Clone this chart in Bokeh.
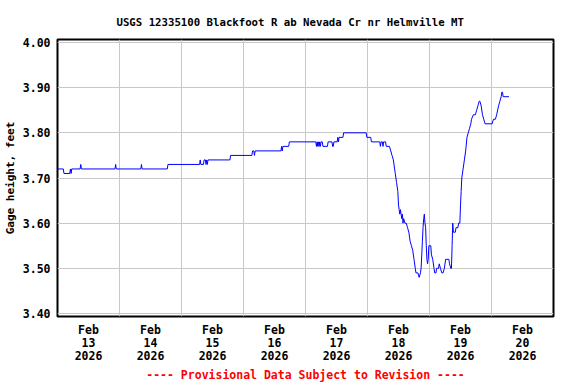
from bokeh.plotting import figure
from bokeh.models import FixedTicker, Range1d
from bokeh.embed import file_html
from bokeh.resources import INLINE

# Hours since 2026-02-13 00:00 and gage height (ft)
hours = [0, 2.25, 2.5, 4.75, 5.0, 5.25, 5.5,
         8.75, 9.0, 9.25,
         22.25, 22.5, 22.75,
         32.25, 32.5, 32.75,
         42.5, 42.75,
         55.0, 55.25, 55.5, 56.5, 56.75, 57.25, 57.5, 57.75, 58.0, 58.25,
         66.75, 67.0,
         75.25, 75.5, 76.0, 76.25, 76.5,
         86.5, 86.75, 87.0, 87.25, 89.5, 89.75,
         100.0, 100.25, 100.5, 100.75, 101.0, 101.25, 101.5, 101.75, 102.0, 102.5, 102.75,
         104.5, 104.75, 106.25, 106.5, 106.75, 107.0, 108.25, 108.5, 108.75, 109.0, 110.5, 110.75,
         119.5, 119.75, 121.25, 121.5, 124.75, 125.0, 125.25, 125.75, 126.0, 126.25, 127.0, 127.25,
         128.5, 129.0, 129.5, 130.0, 130.5, 130.75, 131.25, 131.75, 132.0, 132.25, 132.5, 132.75,
         133.0, 133.25, 133.5, 133.75, 134.0, 134.5, 135.0, 135.5, 136.0, 136.5, 137.0, 137.5,
         138.0, 138.5, 138.75, 139.5, 140.0, 140.5, 140.75, 141.0, 141.25, 141.5, 141.75, 142.0,
         142.25, 142.5, 142.75, 143.0, 143.25, 143.5, 143.75, 144.5, 144.75, 145.25, 145.75, 146.0,
         146.5, 146.75, 147.5, 147.75, 148.25, 148.75, 149.25, 149.75, 150.25, 151.5, 151.75, 152.25,
         152.5, 152.75, 153.0, 153.25, 154.0, 154.25, 155.0, 155.25, 155.75, 156.0, 156.25, 156.5,
         157.0, 157.5, 158.0, 158.5, 159.0, 159.5, 160.0, 160.25, 161.0, 161.75, 162.25, 162.75,
         163.25, 163.5, 164.0, 164.5, 165.0, 165.5, 168.25, 168.75, 169.5, 170.0, 170.75, 171.25,
         171.75, 172.0, 172.25, 172.5, 174.75]
gage_ft = [3.72, 3.72, 3.71, 3.71, 3.72, 3.71, 3.72,
           3.72, 3.73, 3.72,
           3.72, 3.73, 3.72,
           3.72, 3.73, 3.72,
           3.72, 3.73,
           3.73, 3.74, 3.73, 3.73, 3.74, 3.74, 3.73, 3.74, 3.73, 3.74,
           3.74, 3.75,
           3.75, 3.76, 3.76, 3.75, 3.76,
           3.76, 3.77, 3.76, 3.77, 3.77, 3.78,
           3.78, 3.77, 3.78, 3.77, 3.78, 3.77, 3.78, 3.77, 3.78, 3.78, 3.77,
           3.77, 3.78, 3.78, 3.77, 3.77, 3.78, 3.78, 3.79, 3.78, 3.79, 3.79, 3.80,
           3.80, 3.79, 3.79, 3.78, 3.78, 3.77, 3.78, 3.78, 3.77, 3.78, 3.78, 3.77,
           3.77, 3.76, 3.75, 3.74, 3.72, 3.71, 3.69, 3.67, 3.64, 3.63, 3.62, 3.63,
           3.62, 3.61, 3.62, 3.60, 3.61, 3.60, 3.60, 3.59, 3.58, 3.56, 3.55, 3.54,
           3.52, 3.50, 3.49, 3.49, 3.48, 3.49, 3.50, 3.53, 3.56, 3.59, 3.61, 3.62,
           3.60, 3.59, 3.55, 3.52, 3.51, 3.52, 3.55, 3.55, 3.53, 3.52, 3.50, 3.49,
           3.49, 3.50, 3.50, 3.51, 3.50, 3.49, 3.49, 3.50, 3.52, 3.52, 3.51, 3.50,
           3.50, 3.55, 3.60, 3.58, 3.58, 3.59, 3.59, 3.60, 3.60, 3.64, 3.67, 3.70,
           3.72, 3.74, 3.76, 3.79, 3.80, 3.81, 3.82, 3.83, 3.84, 3.84, 3.85, 3.86,
           3.87, 3.87, 3.86, 3.84, 3.83, 3.82, 3.82, 3.83, 3.83, 3.84, 3.86, 3.87,
           3.88, 3.89, 3.89, 3.88, 3.88]

x_tick_hours = [12, 36, 60, 84, 108, 132, 156, 180]
x_tick_labels = ["Feb\n13\n2026", "Feb\n14\n2026", "Feb\n15\n2026", "Feb\n16\n2026",
                 "Feb\n17\n2026", "Feb\n18\n2026", "Feb\n19\n2026", "Feb\n20\n2026"]
day_bounds = [24, 48, 72, 96, 120, 144, 168]
y_ticks = [3.40, 3.50, 3.60, 3.70, 3.80, 3.90, 4.00]
y_tick_labels = ["3.40", "3.50", "3.60", "3.70", "3.80", "3.90", "4.00"]
title_text = "USGS 12335100 Blackfoot R ab Nevada Cr nr Helmville MT"
y_label = "Gage height, feet"
note = "---- Provisional Data Subject to Revision ----"

FONT = "DejaVu Sans Mono"

p = figure(frame_width=496, frame_height=277,
           x_range=Range1d(0, 192), y_range=Range1d(3.3934, 4.0066),
           output_backend="svg", toolbar_location=None,
           min_border_left=50, min_border_right=12, min_border_top=39, min_border_bottom=60)

p.title.text = title_text
p.title.align = "left"
p.title.offset = 59
p.title.text_font = FONT
p.title.text_font_size = "10.7px"
p.title.text_font_style = "bold"
p.title.text_color = "black"
p.title.standoff = 22

p.outline_line_color = "black"
p.outline_line_width = 2
p.background_fill_color = "white"
p.border_fill_color = "white"

# y axis
p.yaxis.ticker = FixedTicker(ticks=y_ticks)
p.yaxis.major_label_overrides = {t: l for t, l in zip(y_ticks, y_tick_labels)}
p.yaxis.axis_label = y_label
p.yaxis.axis_label_text_font = FONT
p.yaxis.axis_label_text_font_size = "11px"
p.yaxis.axis_label_standoff = 3
p.yaxis.major_label_standoff = 7

# x axis
p.xaxis.ticker = FixedTicker(ticks=x_tick_hours)
p.xaxis.major_label_overrides = {t: l for t, l in zip(x_tick_hours, x_tick_labels)}
p.xaxis.major_label_standoff = 6
p.xaxis.major_label_text_line_height = 0.93
p.xaxis.axis_label = note
p.xaxis.axis_label_text_font = FONT
p.xaxis.axis_label_text_font_size = "11.5px"
p.xaxis.axis_label_standoff = 2

for ax in (p.xaxis, p.yaxis):
    ax.axis_line_color = None
    ax.major_tick_in = 0
    ax.major_tick_out = 0
    ax.minor_tick_in = 0
    ax.minor_tick_out = 0
    ax.major_label_text_font = FONT
    ax.major_label_text_font_size = "11.5px"
    ax.major_label_text_font_style = "bold"
    ax.major_label_text_color = "black"
    ax.axis_label_text_font_style = "bold"
    ax.axis_label_text_color = "black"

p.xaxis.axis_label_text_color = "red"

p.xgrid.ticker = FixedTicker(ticks=day_bounds)
p.ygrid.ticker = FixedTicker(ticks=y_ticks)
for g in (p.xgrid, p.ygrid):
    g.grid_line_color = "#c8c8c8"
    g.grid_line_width = 1

p.line(hours, gage_ft, line_color="#0000ff", line_width=1)

open("out.html", "w").write(file_html(p, INLINE))
